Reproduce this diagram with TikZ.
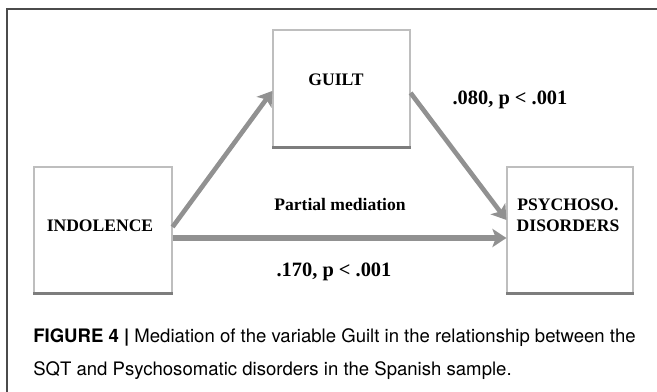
\documentclass[tikz,border=0pt]{standalone}
\usepackage{fontspec}
\setmainfont{Liberation Serif}
\newfontfamily\capfont{TeX Gyre Heros}
\usepackage{tikz}
\usetikzlibrary{arrows.meta}
\definecolor{arrowgray}{RGB}{145,145,145}
\definecolor{boxgray}{RGB}{190,190,190}
\definecolor{shadowgray}{RGB}{125,125,125}
\definecolor{framegray}{RGB}{75,75,75}

\begin{document}
\begin{tikzpicture}[x=0.025cm, y=-0.025cm]
    \tikzstyle{varbox} = [rectangle, draw=boxgray, line width=0.8pt, fill=white, inner sep=0pt]
    \tikzstyle{vartext} = [font=\bfseries\fontsize{12.5}{15}\selectfont, align=center, inner sep=0pt]
    \tikzstyle{coef} = [font=\bfseries\fontsize{14.5}{17}\selectfont, inner sep=0pt]
    \tikzstyle{path} = [draw=arrowgray, line width=3.3pt, -{Stealth[length=10pt, width=13pt, inset=2.5pt]}]
    \tikzstyle{shadow} = [draw=shadowgray, line width=2.4pt]

    \useasboundingbox (0,0) rectangle (657,392);
    % outer frame (top and left only)
    \draw[framegray, line width=1.2pt] (657,9) -- (7,9) -- (7,392);

    \node[varbox, minimum width=3.45cm, minimum height=3.15cm] (indol) at (103,230) {};
    \node[varbox, minimum width=3.425cm, minimum height=2.925cm] (guilt) at (341.5,88.5) {};
    \node[varbox, minimum width=3.15cm, minimum height=3.15cm] (psych) at (570,230) {};

    \draw[shadow] (indol.south west) -- (indol.south east);
    \draw[shadow] (guilt.south west) -- (guilt.south east);
    \draw[shadow] (psych.south west) -- (psych.south east);

    \node[vartext] (indoltxt) at (100,226) {INDOLENCE};
    \node[vartext] (guilttxt) at (336,80) {GUILT};
    \node[vartext] (psychtxt) at (568,215) {PSYCHOSO.\\DISORDERS};

    \draw[path] ([yshift=0.075cm]indol.east) -- ([yshift=-0.06cm]guilt.west);
    \draw[path] ([yshift=-0.11cm]guilt.east) -- ([yshift=0.25cm]psych.west);
    \draw[path, line width=4pt] ([yshift=-0.2cm]indol.east) -- ([yshift=-0.2cm]psych.west);

    \node[vartext] (partial) at (340,204) {Partial mediation};
    \node[coef] (coefb) at (510,100) {.080, p < .001};
    \node[coef] (coefc) at (334,272) {.170, p < .001};

    \node[anchor=west, font=\capfont\fontsize{13.2}{23.5}\selectfont, align=left, inner sep=0pt] (caption) at (33,354)
        {\textbf{FIGURE 4 |} Mediation of the variable Guilt in the relationship between the\\SQT and Psychosomatic disorders in the Spanish sample.};
\end{tikzpicture}
\end{document}
